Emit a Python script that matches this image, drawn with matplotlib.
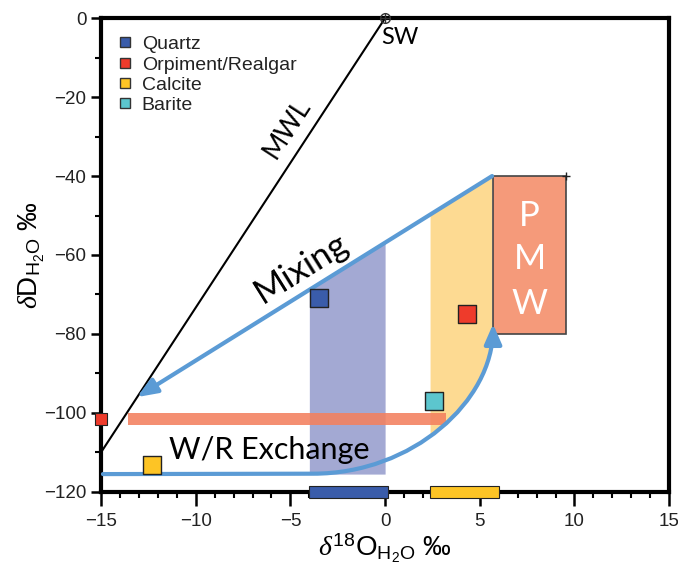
import numpy as np
import matplotlib
matplotlib.use("Agg")
import matplotlib.pyplot as plt
from matplotlib.patches import Rectangle, FancyArrowPatch, Polygon
from matplotlib.path import Path
from matplotlib.lines import Line2D

plt.rcParams['font.family'] = ['Liberation Sans', 'DejaVu Sans']
plt.rcParams['mathtext.fontset'] = 'custom'
plt.rcParams['mathtext.rm'] = 'Liberation Sans'
plt.rcParams['mathtext.it'] = 'Liberation Serif:italic'

# ---- data ----
minerals = ['Quartz', 'Orpiment/Realgar', 'Calcite', 'Barite']
colors = ['#3A5CAA', '#EE3B2B', '#FDC425', '#5CC6CE']
pts_x = [[-3.5], [4.3], [-12.3], [2.6]]
pts_y = [[-70.8], [-74.9], [-113.2], [-97.0]]
edge_pt_x = [-15.0]
edge_pt_y = [-101.5]

mwl_x = [-15.0, 0.0]
mwl_y = [-110.0, 0.0]
sw_x, sw_y = 0.0, 0.0

mix_start = (5.65, -40.0)
mix_end = (-13.1, -96.0)

wr_flat = [(-14.9, -115.5), (-3.8, -115.4)]
wr_bez = [(-3.8, -115.4), (1.45, -115.4), (5.7, -97.0), (5.7, -77.5)]

quartz_range = (-4.0, 0.15)
calcite_range = (2.35, 6.02)
calcite_shade = (2.4, 5.65)
orp_range = (-13.6, 3.2)
orp_y = -101.5

pmw_x = (5.7, 9.55)
pmw_y = (-80.0, -40.0)

xticks = [-15, -10, -5, 0, 5, 10, 15]
yticks = [-120, -100, -80, -60, -40, -20, 0]

blue_line = '#5B9BD5'

fig = plt.figure(figsize=(6.78, 5.66), dpi=100)
ax = fig.add_axes([0.149, 0.131, 0.838, 0.837])
ax.set_xlim(-15, 15)
ax.set_ylim(-120, 0)


def mix_y(x):
    (x0, y0), (x1, y1) = mix_start, mix_end
    return y0 + (np.asarray(x) - x0) * (y1 - y0) / (x1 - x0)


t = np.linspace(0, 1, 300)[:, None]
P = np.array(wr_bez)
bez = ((1 - t) ** 3) * P[0] + 3 * ((1 - t) ** 2) * t * P[1] + 3 * (1 - t) * t ** 2 * P[2] + t ** 3 * P[3]

# quartz shading
qx = np.array([quartz_range[0], 0.0])
ax.fill_between(qx, wr_flat[0][1], mix_y(qx), color='#A3A9D3', lw=0, zorder=1)

# calcite shading
mask = (bez[:, 0] >= calcite_shade[0]) & (bez[:, 0] <= calcite_shade[1])
curve = bez[mask]
topx = np.array([calcite_shade[0], calcite_shade[1]])
poly = np.vstack([np.column_stack([topx, mix_y(topx)]), curve[::-1]])
ax.add_patch(Polygon(poly, closed=True, color='#FDDA92', lw=0, zorder=1))

# orpiment range bar
ax.add_patch(Rectangle((orp_range[0], orp_y - 1.55), orp_range[1] - orp_range[0], 3.1,
                       color='#F3805E', alpha=0.88, lw=0, zorder=2))

# PMW box
ax.add_patch(Rectangle((pmw_x[0], pmw_y[0]), pmw_x[1] - pmw_x[0], pmw_y[1] - pmw_y[0],
                       facecolor='#F59A7A', edgecolor='#444444', lw=1.2, zorder=2))
for s, yy in zip(['P', 'M', 'W'], [-50.0, -61.0, -72.5]):
    ax.text(np.mean(pmw_x), yy, s, color='white', fontsize=25, ha='center', va='center',
            family=['Lato'], zorder=3)
ax.plot([pmw_x[1]], [pmw_y[1]], marker='+', color='#222222', ms=6, mew=1, clip_on=False, zorder=4)

# MWL
ax.plot(mwl_x, mwl_y, color='black', lw=1.5, zorder=3)
ax.text(-5.2, -28.0, 'MWL', rotation=57, fontsize=19, ha='center', va='center',
        family=['Lato'], zorder=3)
ax.plot([sw_x], [sw_y], marker='o', mfc='none', mec='#333333', ms=7, mew=1, clip_on=False, zorder=5)
ax.plot([sw_x], [sw_y], marker='+', color='#333333', ms=7, mew=1, clip_on=False, zorder=5)
ax.text(-0.2, -2.2, 'SW', fontsize=17, ha='left', va='top', family=['Lato'], zorder=3)

# mixing arrow
ax.add_patch(FancyArrowPatch(mix_start, mix_end, arrowstyle='-|>,head_length=8,head_width=3.2',
                             color=blue_line, lw=3, mutation_scale=1.5, shrinkA=0, shrinkB=0, zorder=4))
ax.text(-4.4, -63.2, 'Mixing', rotation=32, fontsize=25, ha='center', va='center',
        family=['Lato'], zorder=4)

# W/R exchange arrow
verts = [wr_flat[0], wr_flat[1]] + [tuple(p) for p in wr_bez[1:]]
codes = [Path.MOVETO, Path.LINETO, Path.CURVE4, Path.CURVE4, Path.CURVE4]
ax.add_patch(FancyArrowPatch(path=Path(verts, codes), arrowstyle='-|>,head_length=8,head_width=3.5',
                             color=blue_line, lw=3, mutation_scale=1.5, zorder=4))
ax.text(-6.1, -109.5, 'W/R Exchange', fontsize=22, ha='center', va='center',
        family=['Lato'], zorder=4)

# bottom range bars
ax.add_patch(Rectangle((quartz_range[0], -121.6), quartz_range[1] - quartz_range[0], 3.2,
                       facecolor=colors[0], edgecolor='#222222', lw=0.8, clip_on=False, zorder=6))
ax.add_patch(Rectangle((calcite_range[0], -121.6), calcite_range[1] - calcite_range[0], 3.2,
                       facecolor=colors[2], edgecolor='#222222', lw=0.8, clip_on=False, zorder=6))

# mineral points
for xs, ys, c in zip(pts_x, pts_y, colors):
    ax.scatter(xs, ys, marker='s', s=150, color=c, edgecolor='#222222', lw=1, zorder=6, clip_on=False)
ax.scatter(edge_pt_x, edge_pt_y, marker='s', s=65, color=colors[1], edgecolor='#222222', lw=0.8,
           zorder=6, clip_on=False)

# legend
handles = [Line2D([], [], marker='s', ls='none', ms=7, mfc=c, mec='#333333', mew=1) for c in colors]
leg = ax.legend(handles, minerals, loc='upper left', bbox_to_anchor=(0.0, 0.996), frameon=False,
                fontsize=14, handletextpad=0.4, labelspacing=0.14, borderaxespad=0.4,
                handlelength=0.9)
for txt in leg.get_texts():
    txt.set_color('#222222')

# axes styling
for sp in ax.spines.values():
    sp.set_linewidth(3)
ax.set_xticks(xticks)
ax.set_yticks(yticks)
ax.set_xticklabels([str(v).replace('-', '\u2212') for v in xticks])
ax.set_yticklabels([str(v).replace('-', '\u2212') for v in yticks])
ax.set_xticks(np.arange(-15, 16, 1), minor=True)
ax.set_yticks(np.arange(-120, 1, 10), minor=True)
ax.tick_params(which='major', length=7, width=1.8, labelsize=13.5, colors='black', labelcolor='#222222')
ax.tick_params(axis='x', which='major', length=10, pad=5)
ax.tick_params(which='minor', length=4, width=1.5)
ax.set_xlabel(r'$\mathit{\delta}^{18}\mathrm{O}_{\mathrm{H_2O}}$ ‰', fontsize=20, labelpad=1)
ax.set_ylabel(r'$\mathit{\delta}\mathrm{D}_{\mathrm{H_2O}}$ ‰', fontsize=20, labelpad=-2)

fig.savefig('out.png', dpi=100)
